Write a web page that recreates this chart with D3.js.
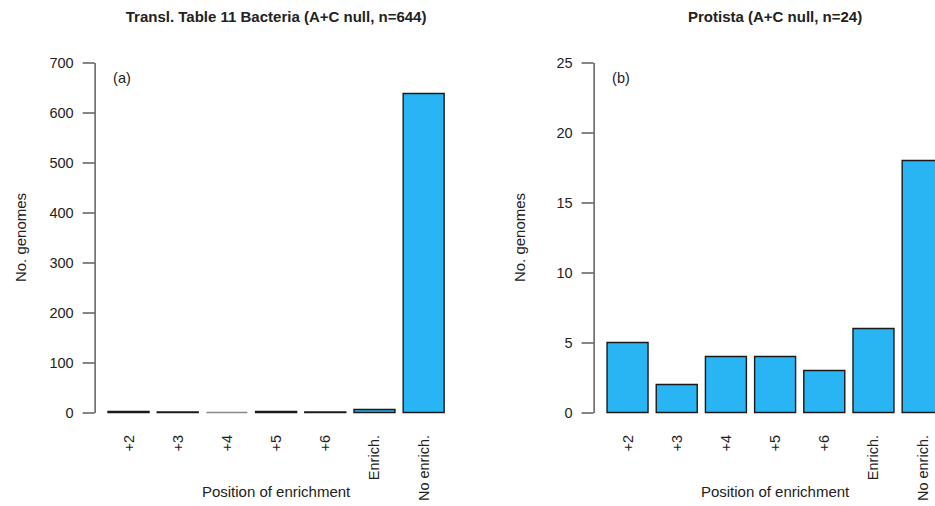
<!DOCTYPE html>
<html>
<head>
<meta charset="utf-8">
<script src="https://cdn.jsdelivr.net/npm/d3@7"></script>
<style>
  html, body { margin: 0; padding: 0; background: #fff; }
  svg { display: block; }
  text { font-family: "Liberation Sans", Arial, Helvetica, sans-serif; fill: #222; }
</style>
</head>
<body>
<svg id="chart" width="935" height="506"></svg>
<script>
// Categories shared by both panels
const categories = ["+2", "+3", "+4", "+5", "+6", "Enrich.", "No enrich."];

// Genome counts per category
const bacteriaCounts = [2, 1, 0, 2, 1, 6, 638];
const protistaCounts = [5, 2, 4, 4, 3, 6, 18];

// Y-axis ticks
const bacteriaTicks = [0, 100, 200, 300, 400, 500, 600, 700];
const protistaTicks = [0, 5, 10, 15, 20, 25];

const titles = ["Transl. Table 11 Bacteria (A+C null, n=644)", "Protista (A+C null, n=24)"];
const tags = ["(a)", "(b)"];

const panels = [
  { title: titles[0], tag: tags[0], values: bacteriaCounts, ticks: bacteriaTicks, ymax: 700, left: 94.6 },
  { title: titles[1], tag: tags[1], values: protistaCounts, ticks: protistaTicks, ymax: 25, left: 593.6 }
];

const svg = d3.select("#chart");
const plotW = 363;
const yTop = 62.5, yBottom = 412.5;
const fill = "#29b5f3";

panels.forEach(p => {
  const g = svg.append("g");

  // Bar layout in barplot units: width 1, gap 0.2, 4% padding on each side
  const lo = 0.2, hi = 0.2 + categories.length * 1.2 - 0.2;
  const pad = (hi - lo) * 0.04;
  const x = d3.scaleLinear().domain([lo - pad, hi + pad]).range([p.left, p.left + plotW]);
  const y = d3.scaleLinear().domain([0, p.ymax]).range([yBottom, yTop]);

  // Bars as closed paths so that zero counts still show their outline
  g.selectAll("path.bar")
    .data(p.values)
    .join("path")
    .attr("class", "bar")
    .attr("d", (d, i) => {
      const x0 = x(0.2 + i * 1.2), x1 = x(1.2 + i * 1.2);
      const pth = d3.path();
      pth.moveTo(x0, y(0));
      pth.lineTo(x0, y(d));
      pth.lineTo(x1, y(d));
      pth.lineTo(x1, y(0));
      pth.closePath();
      return pth.toString();
    })
    .attr("fill", fill)
    .attr("stroke", (d) => d === 0 ? "#888" : "#1a1a1a")
    .attr("stroke-width", 1.4);

  // Y axis
  const yAxis = d3.axisLeft(y)
    .tickValues(p.ticks)
    .tickSize(12)
    .tickPadding(9)
    .tickSizeOuter(0);
  const ax = g.append("g")
    .attr("transform", `translate(${p.left},0)`)
    .call(yAxis);
  ax.select(".domain").attr("stroke", "#444").attr("stroke-width", 1.3);
  ax.selectAll(".tick line").attr("stroke", "#444").attr("stroke-width", 1.3);
  ax.selectAll(".tick text")
    .style("font-family", '"Liberation Sans", Arial, sans-serif')
    .style("font-size", "14.5px")
    .attr("fill", "#222");

  // Rotated category labels
  g.selectAll("text.cat")
    .data(categories)
    .join("text")
    .attr("class", "cat")
    .attr("transform", (d, i) => `translate(${x(0.7 + i * 1.2) + 5},435) rotate(-90)`)
    .attr("text-anchor", "end")
    .style("font-size", "14.5px")
    .text(d => d);

  const cx = p.left + plotW / 2;

  // Title
  g.append("text")
    .attr("x", cx)
    .attr("y", 22)
    .attr("text-anchor", "middle")
    .style("font-size", "15px")
    .style("font-weight", "bold")
    .attr("fill", "#111")
    .text(p.title);

  // Panel tag
  g.append("text")
    .attr("x", p.left + 18.5)
    .attr("y", 83)
    .style("font-size", "14.5px")
    .text(p.tag);

  // Axis titles
  g.append("text")
    .attr("x", cx)
    .attr("y", 497)
    .attr("text-anchor", "middle")
    .style("font-size", "15px")
    .text("Position of enrichment");

  g.append("text")
    .attr("transform", `translate(${p.left - 69},${(yTop + yBottom) / 2}) rotate(-90)`)
    .attr("text-anchor", "middle")
    .style("font-size", "15px")
    .text("No. genomes");
});
</script>
</body>
</html>
